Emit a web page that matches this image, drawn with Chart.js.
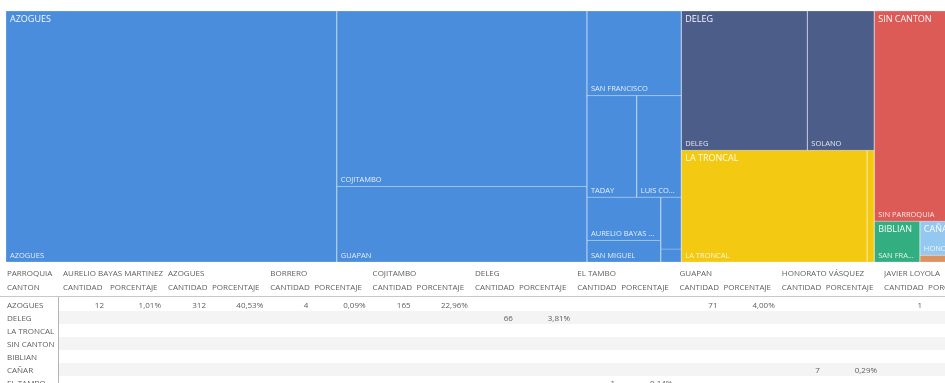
<!DOCTYPE html>
<html>
<head>
<meta charset="utf-8">
<script src="https://cdn.jsdelivr.net/npm/chart.js@4/dist/chart.umd.min.js"></script>
<style>
    html, body { margin: 0; padding: 0; background: #fff; width: 945px; height: 383px; overflow: hidden; }
    #mapa { position: absolute; left: 6px; top: 11px; width: 939px; height: 251px; overflow: hidden; }
    #tabla { position: absolute; left: 0; top: 0; width: 945px; height: 383px; overflow: hidden;
             font-family: "Open Sans", "Noto Sans", sans-serif; font-size: 8px; color: #605E5C; }
    #tabla div { position: absolute; white-space: nowrap; overflow: hidden; }
</style>
</head>
<body>
<div id="mapa"><canvas id="treemap" width="953" height="251"></canvas></div>
<div id="tabla"></div>
<script>
const cantones = ['AZOGUES', 'DELEG', 'LA TRONCAL', 'SIN CANTON', 'BIBLIAN', 'CAÑAR', 'EL TAMBO'];
const coloresCanton = ['#4A8DDC', '#4C5D8A', '#F3C911', '#DC5B57', '#33AE81', '#95C8F0', '#DD915F'];
const parroquias = [
    ['AZOGUES', 'COJITAMBO', 'GUAPAN', 'SAN FRANCISCO', 'TADAY', 'LUIS CORDERO', 'AURELIO BAYAS MARTINEZ', 'SAN MIGUEL', 'BORRERO', 'JAVIER LOYOLA'],
    ['DELEG', 'SOLANO'],
    ['LA TRONCAL', 'MANUEL J. CALLE'],
    ['SIN PARROQUIA'],
    ['SAN FRANCISCO DE SAGEO'],
    ['HONORATO VÁSQUEZ'],
    ['EL TAMBO']
];
const cantidades = [
    [312, 165, 71, 30, 19, 17, 12, 6, 4, 1],
    [66, 35],
    [78, 3],
    [67],
    [7],
    [5],
    [1]
];

// Tabla (matriz) bajo el treemap
const filasTabla = ['AZOGUES', 'DELEG', 'LA TRONCAL', 'SIN CANTON', 'BIBLIAN', 'CAÑAR', 'EL TAMBO'];
const columnasTabla = ['AURELIO BAYAS MARTINEZ', 'AZOGUES', 'BORRERO', 'COJITAMBO', 'DELEG', 'EL TAMBO', 'GUAPAN', 'HONORATO VÁSQUEZ', 'JAVIER LOYOLA'];
const tablaCantidad = [
    [12, 312, 4, 165, null, null, 71, null, 1],
    [null, null, null, null, 66, null, null, null, null],
    [],
    [],
    [],
    [null, null, null, null, null, null, null, 7, null],
    [null, null, null, null, null, 1, null, null, null]
];
const tablaPorcentaje = [
    ['1,01%', '40,53%', '0,09%', '22,96%', null, null, '4,00%', null, null],
    [null, null, null, null, '3,81%', null, null, null, null],
    [],
    [],
    [],
    [null, null, null, null, null, null, null, '0,29%', null],
    [null, null, null, null, null, '0,14%', null, null, null]
];

const ANCHO = 953;
const ALTO = 251;
const PHI = (1 + Math.sqrt(5)) / 2;

// squarify (misma idea que d3.treemapSquarify)
function squarify(items, x0, y0, x1, y1) {
    let value = items.reduce((s, d) => s + d.value, 0);
    let i0 = 0, i1 = 0;
    const n = items.length;
    while (i0 < n) {
        const dx = x1 - x0, dy = y1 - y0;
        let sum = items[i1++].value;
        let minV = sum, maxV = sum;
        const alpha = Math.max(dy / dx, dx / dy) / (value * PHI);
        let beta = sum * sum * alpha;
        let minRatio = Math.max(maxV / beta, beta / minV);
        for (; i1 < n; ++i1) {
            const v = items[i1].value;
            sum += v;
            if (v < minV) minV = v;
            if (v > maxV) maxV = v;
            beta = sum * sum * alpha;
            const r = Math.max(maxV / beta, beta / minV);
            if (r > minRatio) { sum -= v; break; }
            minRatio = r;
        }
        const row = items.slice(i0, i1);
        if (dx < dy) {
            const yy = value ? y0 + dy * sum / value : y1;
            let x = x0;
            row.forEach(d => {
                const w = dx * d.value / sum;
                Object.assign(d, { x0: x, x1: x + w, y0: y0, y1: yy });
                x += w;
            });
            y0 = yy;
        } else {
            const xx = value ? x0 + dx * sum / value : x1;
            let y = y0;
            row.forEach(d => {
                const h = dy * d.value / sum;
                Object.assign(d, { x0: x0, x1: xx, y0: y, y1: y + h });
                y += h;
            });
            x0 = xx;
        }
        value -= sum;
        i0 = i1;
    }
    return items;
}

const grupos = cantones.map((c, i) => ({
    nombre: c,
    color: coloresCanton[i],
    value: cantidades[i].reduce((s, v) => s + v, 0),
    hijos: parroquias[i].map((p, j) => ({ nombre: p, value: cantidades[i][j] }))
}));
squarify(grupos, 0, 0, ANCHO, ALTO);
grupos.forEach(g => squarify(g.hijos, g.x0, g.y0, g.x1, g.y1));

const datasets = [];
grupos.forEach(g => {
    g.hijos.forEach(h => {
        datasets.push({
            label: h.nombre,
            data: [
                { x: h.x0, y: h.y0 }, { x: h.x1, y: h.y0 },
                { x: h.x1, y: h.y1 }, { x: h.x0, y: h.y1 }, { x: h.x0, y: h.y0 }
            ],
            showLine: true,
            fill: 'shape',
            backgroundColor: g.color,
            borderColor: 'rgba(255,255,255,0.22)',
            borderWidth: 1,
            pointRadius: 0,
            tension: 0
        });
    });
});

function recortar(ctx, texto, ancho) {
    if (ctx.measureText(texto).width <= ancho) return texto;
    let t = texto;
    while (t.length > 1 && ctx.measureText(t + '...').width > ancho) t = t.slice(0, -1);
    return t + '...';
}

// etiquetas de canton (arriba) y parroquia (abajo)
const etiquetas = {
    id: 'etiquetas',
    afterDatasetsDraw(chart) {
        const ctx = chart.ctx;
        const sx = chart.scales.x, sy = chart.scales.y;
        ctx.save();
        grupos.forEach(g => {
            g.hijos.forEach(h => {
                const left = sx.getPixelForValue(h.x0), right = sx.getPixelForValue(h.x1);
                const top = sy.getPixelForValue(h.y0), bottom = sy.getPixelForValue(h.y1);
                if (right - left < 24 || bottom - top < 14) return;
                ctx.font = '7.5px "Open Sans"';
                ctx.fillStyle = 'rgba(255,255,255,0.85)';
                ctx.textBaseline = 'alphabetic';
                ctx.fillText(recortar(ctx, h.nombre, right - left - 8), left + 4, bottom - 4.5);
            });
            const gl = sx.getPixelForValue(g.x0), gr = sx.getPixelForValue(g.x1);
            const gt = sy.getPixelForValue(g.y0), gb = sy.getPixelForValue(g.y1);
            if (gb - gt < 14) return;
            ctx.save();
            ctx.beginPath();
            ctx.rect(gl, gt, gr - gl, gb - gt);
            ctx.clip();
            ctx.font = '9px "Open Sans"';
            ctx.fillStyle = 'rgba(255,255,255,0.95)';
            ctx.textBaseline = 'top';
            ctx.fillText(g.nombre, gl + 4, gt + 4);
            ctx.restore();
        });
        ctx.restore();
    }
};

new Chart(document.getElementById('treemap'), {
    type: 'scatter',
    data: { datasets },
    options: {
        responsive: false,
        animation: false,
        layout: { padding: 0 },
        scales: {
            x: { type: 'linear', min: 0, max: ANCHO, display: false },
            y: { type: 'linear', min: 0, max: ALTO, reverse: true, display: false }
        },
        plugins: {
            legend: { display: false },
            tooltip: { enabled: false }
        }
    },
    plugins: [etiquetas]
});

// tabla
const tabla = document.getElementById('tabla');
function celda(texto, left, top, width, align) {
    const d = document.createElement('div');
    d.textContent = texto;
    d.style.left = left + 'px';
    d.style.top = top + 'px';
    d.style.width = width + 'px';
    d.style.height = '13px';
    d.style.lineHeight = '13px';
    d.style.textAlign = align;
    tabla.appendChild(d);
    return d;
}
function bloque(left, top, width, height, color) {
    const d = document.createElement('div');
    Object.assign(d.style, { left: left + 'px', top: top + 'px', width: width + 'px', height: height + 'px', background: color });
    tabla.appendChild(d);
}

const inicioCol = i => i === 0 ? 59 : 164 + (i - 1) * 102.3;
const anchoCant = i => i === 0 ? 47 : 44;
const anchoPar = i => i === 0 ? 105 : 102.3;
const FILA0 = 298, ALTO_FILA = 13;

filasTabla.forEach((f, r) => {
    if (r % 2 === 1) bloque(59, FILA0 + r * ALTO_FILA, 886, ALTO_FILA, '#F4F4F4');
});
bloque(0, 296, 945, 1, '#C8C8C8');
bloque(58, 297, 1, 90, '#B4B4B4');

celda('PARROQUIA', 7, 265.5, 50, 'left');
celda('CANTON', 7, 279.5, 50, 'left');
columnasTabla.forEach((c, i) => {
    const x = inicioCol(i);
    celda(c, x + 4, 265.5, anchoPar(i) - 4, 'left');
    celda('CANTIDAD', x + 4, 279.5, anchoCant(i), 'left');
    celda('PORCENTAJE', x + anchoCant(i) + 4, 279.5, anchoPar(i) - anchoCant(i) - 4, 'left');
});
filasTabla.forEach((f, r) => {
    const y = FILA0 + r * ALTO_FILA;
    celda(f, 7, y, 50, 'left');
    columnasTabla.forEach((c, i) => {
        const x = inicioCol(i);
        const cant = tablaCantidad[r][i];
        const pct = tablaPorcentaje[r][i];
        if (cant != null) celda(String(cant), x, y, anchoCant(i) - 2, 'right');
        if (pct != null) celda(pct, x + anchoCant(i), y, anchoPar(i) - anchoCant(i) - 3, 'right');
    });
});
</script>
</body>
</html>
